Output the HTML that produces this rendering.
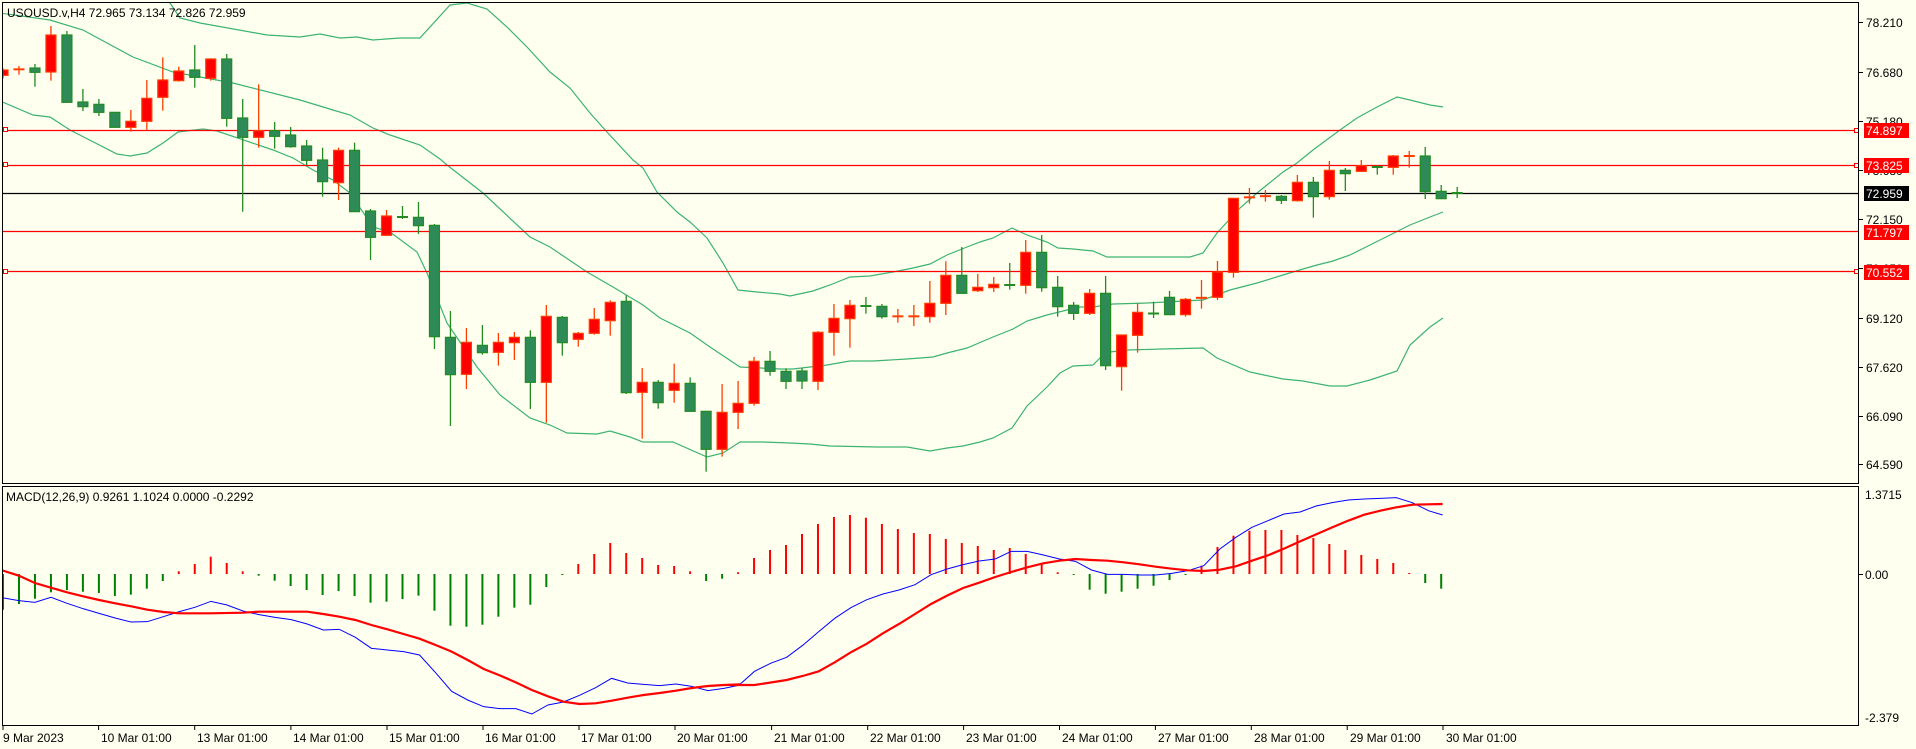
<!DOCTYPE html>
<html><head><meta charset="utf-8"><style>
html,body{margin:0;padding:0;background:#fffff0;}
svg{display:block;}
text{font-family:"Liberation Sans",sans-serif;font-size:12px;fill:#000;}
</style></head><body>
<svg id="s" width="1916" height="749" viewBox="0 0 1916 749" xmlns="http://www.w3.org/2000/svg">
<rect x="0" y="0" width="1916" height="749" fill="#fffff0"/>
<defs>
<clipPath id="cm"><rect x="3" y="3" width="1855" height="480"/></clipPath>
<clipPath id="cd"><rect x="3" y="487" width="1855" height="239"/></clipPath>
</defs>
<g id="bands" clip-path="url(#cm)" fill="none" stroke="#3cb371" stroke-width="1.2"></g>
<g id="hl" clip-path="url(#cm)">
<line x1="3" x2="1858" y1="130.5" y2="130.5" stroke="#ff0000" stroke-width="1.3"/>
<line x1="3" x2="1858" y1="165.5" y2="165.5" stroke="#ff0000" stroke-width="1.3"/>
<line x1="3" x2="1858" y1="193.5" y2="193.5" stroke="#000" stroke-width="1.3"/>
<line x1="3" x2="1858" y1="231.5" y2="231.5" stroke="#ff0000" stroke-width="1.3"/>
<line x1="3" x2="1858" y1="271.5" y2="271.5" stroke="#ff0000" stroke-width="1.3"/>
<rect x="3.5" y="127.5" width="4" height="4" fill="#fffff0" stroke="#ff0000"/>
<rect x="3.5" y="162.5" width="4" height="4" fill="#fffff0" stroke="#ff0000"/>
<rect x="3.5" y="269.5" width="4" height="4" fill="#fffff0" stroke="#ff0000"/>
<rect x="1854.5" y="128.5" width="4" height="4" fill="#fffff0" stroke="#ff0000"/>
<rect x="1854.5" y="163.5" width="4" height="4" fill="#fffff0" stroke="#ff0000"/>
<rect x="1854.5" y="269.5" width="4" height="4" fill="#fffff0" stroke="#ff0000"/>
</g>
<g id="candles" clip-path="url(#cm)"></g>
<g id="macd" clip-path="url(#cd)"></g>
<!-- frames -->
<rect x="2.5" y="2.5" width="1856" height="481" fill="none" stroke="#000" stroke-width="1"/>
<rect x="2.5" y="486.5" width="1856" height="239" fill="none" stroke="#000" stroke-width="1"/>
<text x="7" y="17">USOUSD.v,H4  72.965 73.134 72.826 72.959</text>
<text x="6" y="501">MACD(12,26,9) 0.9261 1.1024 0.0000 -0.2292</text>
<!-- right axis -->
<g stroke="#000">
<line x1="1859" x2="1863" y1="22.5" y2="22.5"/><line x1="1859" x2="1863" y1="72.5" y2="72.5"/>
<line x1="1859" x2="1863" y1="121.5" y2="121.5"/><line x1="1859" x2="1863" y1="170.5" y2="170.5"/>
<line x1="1859" x2="1863" y1="219.5" y2="219.5"/><line x1="1859" x2="1863" y1="268.5" y2="268.5"/>
<line x1="1859" x2="1863" y1="318.5" y2="318.5"/><line x1="1859" x2="1863" y1="367.5" y2="367.5"/>
<line x1="1859" x2="1863" y1="416.5" y2="416.5"/><line x1="1859" x2="1863" y1="464.5" y2="464.5"/>
<line x1="1859" x2="1863" y1="574.5" y2="574.5"/>
</g>
<text x="1866" y="27">78.210</text>
<text x="1866" y="77">76.680</text>
<text x="1866" y="126">75.180</text>
<text x="1866" y="175">73.680</text>
<text x="1866" y="224">72.150</text>
<text x="1866" y="273">70.650</text>
<text x="1866" y="323">69.120</text>
<text x="1866" y="372">67.620</text>
<text x="1866" y="421">66.090</text>
<text x="1866" y="469">64.590</text>
<rect x="1864" y="123" width="45" height="15" fill="#ff0000"/><text x="1866" y="135" style="fill:#fff">74.897</text>
<rect x="1864" y="158" width="45" height="15" fill="#ff0000"/><text x="1866" y="170" style="fill:#fff">73.825</text>
<rect x="1864" y="186" width="45" height="15" fill="#000"/><text x="1866" y="198" style="fill:#fff">72.959</text>
<rect x="1864" y="225" width="45" height="15" fill="#ff0000"/><text x="1866" y="237" style="fill:#fff">71.797</text>
<rect x="1864" y="265" width="45" height="15" fill="#ff0000"/><text x="1866" y="277" style="fill:#fff">70.552</text>
<text x="1865" y="499">1.3715</text>
<text x="1865" y="579">0.00</text>
<text x="1865" y="722">-2.379</text>
<!-- time axis -->
<g id="tt" stroke="#000"></g>
<text x="3" y="742">9 Mar 2023</text>
<text x="101" y="742">10 Mar 01:00</text>
<text x="197" y="742">13 Mar 01:00</text>
<text x="293" y="742">14 Mar 01:00</text>
<text x="389" y="742">15 Mar 01:00</text>
<text x="485" y="742">16 Mar 01:00</text>
<text x="581" y="742">17 Mar 01:00</text>
<text x="677" y="742">20 Mar 01:00</text>
<text x="774" y="742">21 Mar 01:00</text>
<text x="870" y="742">22 Mar 01:00</text>
<text x="966" y="742">23 Mar 01:00</text>
<text x="1062" y="742">24 Mar 01:00</text>
<text x="1158" y="742">27 Mar 01:00</text>
<text x="1254" y="742">28 Mar 01:00</text>
<text x="1350" y="742">29 Mar 01:00</text>
<text x="1446" y="742">30 Mar 01:00</text>
</svg>
<script>
var NS="http://www.w3.org/2000/svg";
function el(p,t,a){var e=document.createElementNS(NS,t);for(var k in a)e.setAttribute(k,a[k]);p.appendChild(e);return e;}
function X(i){return 3+15.98*i;}
// ticks
var tt=document.getElementById('tt');
[3,98.6,194.7,290.9,387,483,579,675,771.6,867.7,963.6,1059.5,1155.4,1251.3,1347.2,1443].forEach(function(x){el(tt,'line',{x1:x,x2:x,y1:726,y2:730});});
// candles [color, bodyTop, bodyBot, wickTop, wickBot] in zoom coords
var z1=[['R',210,226,205,235],['R',205,211,198,224],['G',204,217,192,260],['R',105,216,78,242],['G',105,307,93,307],['G',306,320,267,333],['G',313,337,297,348],['G',337,382,337,382],['R',364,382,330,395],['R',295,364,240,390],['R',240,292,172,332],['R',213,242,200,245],['G',210,232,135,263],['R',177,235,175,242],['G',177,355,162,380],['G',354,412,297,635],['R',392,412,253,443],['G',392,409,366,446],['G',405,440,381,443],['G',438,481,420,495],['G',480,545,443,590],['R',451,548,443,600],['G',451,635,428,635],['G',633,712,627,780],['R',648,706,630,706]];
var z2=[['G',200,202,168,207],['G',202,227,156,252],['G',226,560,222,597],['G',562,674,483,828],['R',577,673,534,717],['G',586,608,525,614],['R',577,607,549,647],['R',562,578,546,630],['G',562,697,541,777],['R',499,697,465,818],['G',502,578,498,617],['R',550,568,546,590],['R',508,550,474,554],['R',457,512,451,557],['G',454,728,436,732],['R',697,727,654,866],['G',697,758,690,776],['R',700,721,641,758],['G',700,784,682,784],['G',784,898,784,965],['R',787,898,702,920],['R',760,787,693,837],['R',634,760,621,767],['G',634,664,603,677],['G',664,694,655,717]];
var z3=[['R',697,844,693,870],['R',655,697,612,767],['R',616,656,600,743],['G',616,620,591,641],['G',619,650,612,656],['R',648,650,627,668],['R',648,650,615,678],['R',610,650,543,668],['R',526,610,484,645],['G',526,580,441,580],['R',562,572,522,576],['R',553,563,531,576],['G',553,557,489,569],['R',457,556,420,581],['G',457,563,405,575],['G',562,620,528,650],['G',616,640,606,660],['R',580,640,567,645],['G',580,797,528,810],['R',705,800,705,872],['R',637,706,610,758],['G',637,644,605,654],['G',592,644,573,644],['R',598,644,594,650],['R',592,595,540,626]];
var z8=[['R',816,892,783,900],['R',595,817,595,833],['R',589,595,564,611],['R',587,590,570,605],['G',589,601,585,612],['R',547,602,525,605],['G',547,590,531,653],['R',511,590,483,599],['G',511,521,504,573],['R',497,514,480,514],['G',500,502,495,524],['R',468,502,465,524],['R',467,469,453,503],['G',468,575,441,597],['G',574,596,555,596],['G',578,580,561,594]];
var C=[];
z1.forEach(function(c){C.push([c[0],c[1]/3,c[2]/3,c[3]/3,c[4]/3]);});
z2.forEach(function(c){C.push([c[0],150+c[1]/3,150+c[2]/3,150+c[3]/3,150+c[4]/3]);});
C.push(['G',371,381,368,389]);
z3.forEach(function(c){C.push([c[0],100+c[1]/3,100+c[2]/3,100+c[3]/3,100+c[4]/3]);});
z8.forEach(function(c){C.push([c[0],c[1]/3,c[2]/3,c[3]/3,c[4]/3]);});
var cg=document.getElementById('candles');
C.forEach(function(c,i){
 var x=X(i),r=c[0]=='R';
 var wc=r?'#ff3c00':'#228b22';
 el(cg,'line',{x1:x,x2:x,y1:c[3],y2:c[4],stroke:wc,'stroke-width':1.3});
 var h=Math.max(1,c[2]-c[1]);
 if(h<2.5){el(cg,'rect',{x:x-5.5,y:(c[1]+c[2])/2-1,width:11,height:2,fill:wc});}
 else el(cg,'rect',{x:x-5,y:c[1],width:10,height:h,fill:r?'#ff0000':'#2e8b57',stroke:wc,'stroke-width':1.2});
});
// bands
var bg=document.getElementById('bands');
function pl(p,pts,a){a.points=pts.map(function(q){return q.join(',');}).join(' ');el(p,'polyline',a);}
pl(bg,[[0,-60],[120,-20],[170,3],[180,18],[200,23],[267,35],[300,37],[320,34],[340,38],[357,37],[373,40],[400,38],[420,38],[450,5],[467,3],[487,9],[507,27],[527,47],[550,72],[570,88],[590,113],[607,132],[633,160],[643,168],[657,192],[677,212],[690,222],[707,238],[723,263],[738,290],[757,292],[780,294],[790,296],[813,291],[830,285],[850,277],[870,276],[893,272],[913,268],[930,264],[947,255],[967,247],[980,242],[993,238],[1012,228],[1027,235],[1047,242],[1058,248],[1073,249],[1093,251],[1107,257],[1147,257],[1190,257],[1203,253],[1217,233],[1240,208],[1257,193],[1283,172],[1297,163],[1313,150],[1340,130],[1357,118],[1377,107],[1397,97],[1410,100],[1430,105],[1443,107]],{});
pl(bg,[[0,13],[50,20],[83,30],[133,57],[173,72],[200,77],[233,83],[300,100],[333,110],[350,115],[373,128],[390,135],[420,145],[440,159],[447,165],[483,193],[530,237],[550,247],[587,272],[613,287],[643,305],[660,318],[690,333],[710,347],[740,367],[780,369],[793,369],[827,365],[850,361],[873,361],[907,359],[933,357],[947,353],[967,348],[993,337],[1013,329],[1027,321],[1047,315],[1067,310],[1080,307],[1093,307],[1113,304],[1147,303],[1203,300],[1230,290],[1257,283],[1283,275],[1303,269],[1317,265],[1333,261],[1350,255],[1370,245],[1390,235],[1410,225],[1430,217],[1443,212]],{});
pl(bg,[[0,101],[33,115],[50,117],[70,130],[117,154],[130,156],[147,153],[163,143],[178,132],[203,129],[217,131],[273,150],[293,158],[313,170],[333,180],[350,193],[373,227],[390,232],[417,252],[427,273],[447,323],[477,367],[500,395],[530,418],[550,425],[567,433],[597,434],[610,431],[630,437],[643,442],[673,442],[707,457],[723,453],[740,442],[763,442],[790,443],[810,444],[830,446],[877,447],[907,447],[930,451],[947,448],[963,446],[980,442],[993,438],[1012,428],[1027,406],[1047,387],[1060,373],[1073,366],[1093,365],[1103,355],[1110,352],[1127,350],[1163,349],[1203,348],[1217,358],[1250,372],[1283,379],[1303,381],[1330,386],[1347,386],[1370,380],[1397,371],[1410,345],[1430,327],[1443,318]],{});
// MACD histogram (positive = up, px)
var H=[-35.7,-30,-24.7,-18.3,-16,-17.7,-19,-22,-20.7,-14.7,-7,2.7,10,17.3,11,2.7,-1.7,-6.7,-12,-16,-21,-17,-22,-28.7,-27.7,-25,-21.7,-36.7,-51.7,-52.7,-50.7,-42.7,-33.7,-30.7,-13,-0.7,10,20,31,21,16,9,8,2.7,-7,-4.7,1.7,16,24,29,40,50,57,59,56.3,50,45,41,40,35,31,28,24,26,20,10,1.7,-0.7,-15.7,-19.7,-17.7,-14.7,-11.7,-6,-0.7,8.3,27,38.3,43.3,44,44,39,36,30,24,19,15,11,1,-9,-14.7];
var mg=document.getElementById('macd');
H.forEach(function(v,i){var x=X(i);
 if(Math.abs(v)<1){el(mg,'rect',{x:x-1,y:v>=0?573:574,width:2,height:1,fill:v>=0?'#ff0000':'#008000'});return;}
 el(mg,'line',{x1:x,x2:x,y1:574,y2:574-v,stroke:v>0?'#ff0000':'#008000','stroke-width':2});});
function conv(a,ox){return a.map(function(q){return [ox+q[0]/2.119,484+q[1]/3];});}
var redA=[[0,257],[40,275],[74,297],[108,311],[142,325],[176,337],[210,348],[244,358],[278,367],[312,377],[346,384],[380,388],[447,388],[515,386],[549,383],[651,383],[685,390],[719,398],[753,408],[787,423],[821,436],[855,450],[889,464],[923,483],[957,503],[991,528],[1025,555],[1059,574],[1093,595],[1127,618],[1161,637],[1194,653],[1228,660],[1262,658],[1296,650],[1330,641],[1364,633],[1398,627],[1432,620],[1466,612],[1500,606],[1534,603],[1568,601]];
var redB=[[0,603],[52,603],[120,588],[154,576],[188,562],[222,535],[256,505],[290,479],[324,448],[358,420],[392,390],[426,360],[460,335],[494,312],[528,296],[562,279],[596,264],[630,250],[664,238],[698,230],[732,225],[766,228],[800,230],[834,235],[868,241],[902,248],[936,254],[970,259],[1004,261],[1038,257],[1072,247],[1106,230],[1140,214],[1174,194],[1208,172],[1242,151],[1276,130],[1310,110],[1344,92],[1378,80],[1412,70],[1446,62],[1510,60]];
var bluA=[[0,340],[40,350],[74,355],[108,340],[142,358],[176,374],[210,388],[244,402],[278,414],[312,413],[346,398],[380,383],[413,370],[447,352],[481,363],[515,381],[549,392],[583,400],[617,407],[651,420],[685,438],[719,436],[753,460],[787,493],[821,498],[855,503],[889,513],[923,566],[957,622],[991,648],[1025,668],[1059,674],[1093,674],[1127,690],[1161,663],[1194,654],[1228,634],[1262,611],[1296,583],[1330,597],[1364,601],[1398,605],[1432,600],[1466,607],[1500,620],[1534,613],[1568,603]];
var bluB=[[18,605],[52,562],[86,538],[120,520],[154,484],[188,443],[222,403],[256,371],[290,347],[324,330],[358,318],[392,302],[426,272],[460,255],[494,242],[528,231],[562,225],[596,202],[630,202],[664,213],[698,225],[732,232],[766,258],[800,271],[834,271],[868,273],[902,273],[936,268],[970,260],[1004,245],[1038,195],[1072,160],[1106,130],[1140,110],[1174,90],[1208,84],[1242,66],[1276,56],[1310,48],[1344,45],[1378,43],[1412,41],[1446,56],[1480,80],[1510,93]];
pl(mg,conv(bluA,0).concat(conv(bluB,730)),{fill:'none',stroke:'#0000ff','stroke-width':1});
pl(mg,conv(redA,0).concat(conv(redB,730)),{fill:'none',stroke:'#ff0000','stroke-width':2.2});
</script>
</body></html>
